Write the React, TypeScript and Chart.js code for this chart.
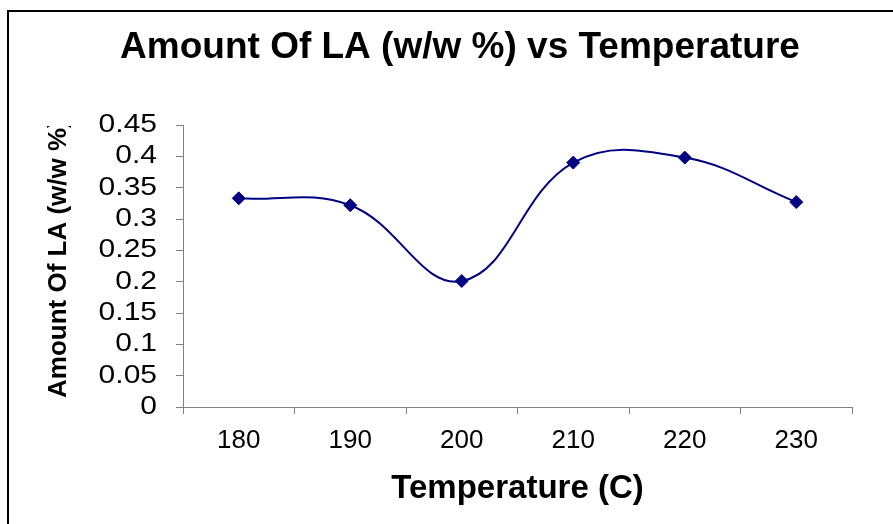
import React, { useEffect, useRef } from "react";
import { Chart, registerables, LinearScale } from "chart.js";

Chart.register(...registerables);

// ---- data ----
const temperatures = ["180", "190", "200", "210", "220", "230"];
const laAmount = [0.333, 0.322, 0.201, 0.39, 0.398, 0.327];
const yMin = 0;
const yMax = 0.45;
const yStep = 0.05;

const CHART_TITLE = "Amount Of LA (w/w %) vs Temperature";
const X_TITLE = "Temperature (C)";
const Y_TITLE = "Amount Of LA (w/w %)";

const FONT = '"Liberation Sans", Arial, Helvetica, sans-serif';
const LINE_COLOR = "#000080";
const AXIS_COLOR = "#808080";
const Y_LABEL_STRETCH = 1.2;

class WideLinearScale extends LinearScale {
  static id = "wideLinear";
  static defaults = LinearScale.defaults;
  drawLabels(chartArea: any) {
    const ctx = (this as any).ctx as CanvasRenderingContext2D;
    const opts = (this as any).options;
    const x = (this as any).right - opts.grid.tickLength - opts.ticks.padding;
    ctx.save();
    ctx.translate(x, 0);
    ctx.scale(Y_LABEL_STRETCH, 1);
    ctx.translate(-x, 0);
    super.drawLabels(chartArea);
    ctx.restore();
  }
}
Chart.register(WideLinearScale as any);

const framePlugin = {
  id: "frame",
  beforeDraw(chart: any) {
    const ctx = chart.ctx as CanvasRenderingContext2D;
    ctx.save();
    ctx.strokeStyle = "#000";
    ctx.lineWidth = 2;
    ctx.beginPath();
    ctx.moveTo(8, chart.height);
    ctx.lineTo(8, 11);
    ctx.lineTo(chart.width, 11);
    ctx.stroke();
    ctx.restore();
  },
};

const yTitlePlugin = {
  id: "yTitle",
  afterDraw(chart: any) {
    const ctx = chart.ctx as CanvasRenderingContext2D;
    ctx.save();
    ctx.beginPath();
    ctx.rect(0, 126, 183, 400);
    ctx.clip();
    ctx.translate(66, 398);
    ctx.rotate(-Math.PI / 2);
    ctx.font = `bold 26px ${FONT}`;
    ctx.fillStyle = "#000";
    ctx.textAlign = "left";
    ctx.textBaseline = "alphabetic";
    ctx.fillText(Y_TITLE, 0, 0);
    ctx.restore();
  },
};

export default function App() {
  const canvasRef = useRef<HTMLCanvasElement | null>(null);

  useEffect(() => {
    if (!canvasRef.current) return;
    Chart.defaults.font.family = FONT;
    Chart.defaults.color = "#000";
    const chart = new Chart(canvasRef.current, {
      type: "line",
      data: {
        labels: temperatures,
        datasets: [
          {
            label: "LA",
            data: laAmount,
            borderColor: LINE_COLOR,
            backgroundColor: LINE_COLOR,
            borderWidth: 2,
            tension: 0.4,
            pointStyle: "rectRot",
            pointRadius: 6.5,
            pointBorderWidth: 1,
            pointBackgroundColor: LINE_COLOR,
            pointBorderColor: LINE_COLOR,
            fill: false,
          },
        ],
      },
      options: {
        responsive: false,
        animation: false,
        events: [],
        layout: { padding: { left: 68, right: 41, top: 0, bottom: 0 } },
        plugins: {
          legend: { display: false },
          tooltip: { enabled: false },
          title: {
            display: true,
            text: CHART_TITLE,
            color: "#000",
            font: { size: 37, weight: "bold", family: FONT },
            padding: { top: 25.8, bottom: 54.8 },
          },
        },
        scales: {
          x: {
            type: "category",
            offset: true,
            afterFit: (scale: any) => {
              scale.height = 117;
            },
            grid: {
              offset: true,
              drawOnChartArea: false,
              drawTicks: true,
              tickLength: 7,
              color: AXIS_COLOR,
            },
            border: { display: true, color: AXIS_COLOR, width: 1 },
            ticks: {
              color: "#000",
              padding: 11.4,
              maxRotation: 0,
              autoSkip: false,
              font: { size: 26, family: FONT },
            },
            title: {
              display: true,
              text: X_TITLE,
              color: "#000",
              font: { size: 33, weight: "bold", family: FONT },
              padding: { top: 0, bottom: 15.2 },
            },
          },
          y: {
            type: "wideLinear" as any,
            min: yMin,
            max: yMax,
            afterFit: (scale: any) => {
              scale.width = 115;
            },
            grid: {
              drawOnChartArea: false,
              drawTicks: true,
              tickLength: 7,
              color: AXIS_COLOR,
            },
            border: { display: true, color: AXIS_COLOR, width: 1 },
            ticks: {
              stepSize: yStep,
              autoSkip: false,
              color: "#000",
              padding: 19,
              font: { size: 25, family: FONT, lineHeight: 1 },
              callback: (v: any) => String(parseFloat(Number(v).toFixed(2))),
            },
          },
        },
      },
      plugins: [framePlugin, yTitlePlugin],
    } as any);
    return () => chart.destroy();
  }, []);

  return (
    <div style={{ position: "fixed", left: 0, top: 0, width: 893, height: 524, background: "#fff" }}>
      <canvas ref={canvasRef} width={893} height={524} style={{ display: "block" }} />
    </div>
  );
}
